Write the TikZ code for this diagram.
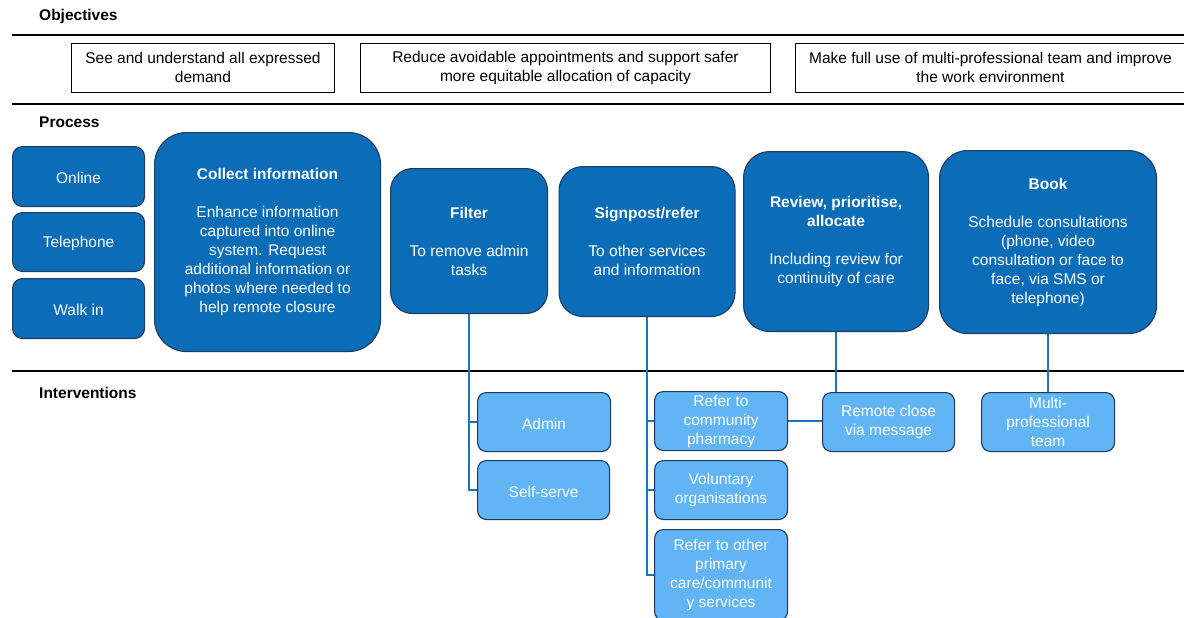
\documentclass[tikz,border=0pt]{standalone}
\usepackage{fontspec}
\setmainfont{Liberation Sans}
\definecolor{dblue}{HTML}{0B6DB8}
\definecolor{lblue}{HTML}{62B5F5}
\definecolor{edge}{HTML}{1F3A5F}
\definecolor{conn}{HTML}{1B75BE}
\tikzset{
  txt/.style={font=\fontsize{15.5}{19}\selectfont, align=center, inner sep=0pt, execute at begin node={\rule{0pt}{15pt}}},
  objbox/.style={txt, draw=black, line width=0.9pt, fill=white, anchor=north west, text=black},
  procbox/.style={txt, draw=edge, line width=1.1pt, fill=dblue, text=white, anchor=north west},
  intbox/.style={txt, draw=edge, line width=1.1pt, fill=lblue, text=white, anchor=north west, rounded corners=9pt},
  head/.style={font=\fontsize{15.5}{19}\selectfont\bfseries, anchor=west, inner sep=0pt},
  rule/.style={line width=1.6pt, black},
  link/.style={conn, line width=1.8pt},
}
\begin{document}
\begin{tikzpicture}[x=1pt,y=-1pt]
\useasboundingbox (0,0) rectangle (1184,618);
\clip (0,0) rectangle (1184,618);

% headings and rules
\node[head] (hobj) at (39,16.5) {Objectives};
\node[head] (hproc) at (39,122.5) {Process};
\node[head] (hint) at (39,392.5) {Interventions};
\coordinate (r1a) at (12,35); \coordinate (r1b) at (1190,35);
\coordinate (r2a) at (12,104); \coordinate (r2b) at (1190,104);
\coordinate (r3a) at (12,371); \coordinate (r3b) at (1190,371);
\draw[rule] (r1a) -- (r1b);
\draw[rule] (r2a) -- (r2b);
\draw[rule] (r3a) -- (r3b);

% objectives
\node[objbox, minimum width=263pt, minimum height=49pt] (o1) at (71,43) {See and understand all expressed\\demand};
\node[objbox, minimum width=410pt, minimum height=49pt] (o2) at (360,43) {Reduce avoidable appointments and support safer\\more equitable allocation of capacity};
\node[objbox, minimum width=410pt, minimum height=49pt] (o3) at (795,43) {\hspace*{-20pt}Make full use of multi-professional team and improve\\\hspace*{-20pt}the work environment};

% process
\node[procbox, rounded corners=10pt, minimum width=132pt, minimum height=60pt] (online) at (12,146) {Online};
\node[procbox, rounded corners=10pt, minimum width=132pt, minimum height=59pt] (tel) at (12,212) {Telephone};
\node[procbox, rounded corners=10pt, minimum width=132pt, minimum height=60pt] (walk) at (12,278) {Walk in};
\node[procbox, rounded corners=32pt, minimum width=226pt, minimum height=219pt] (collect) at (154,132)
  {\textbf{Collect information}\\[19pt]Enhance information\\captured into online\\system. Request\\additional information or\\photos where needed to\\help remote closure};
\node[procbox, rounded corners=22pt, minimum width=157pt, minimum height=145pt] (filter) at (390,168)
  {\textbf{Filter}\\[19pt]To remove admin\\tasks};
\node[procbox, rounded corners=24pt, minimum width=176pt, minimum height=150pt] (sign) at (558.5,166)
  {\textbf{Signpost/refer}\\[19pt]To other services\\and information};
\node[procbox, rounded corners=26pt, minimum width=185pt, minimum height=180pt] (review) at (743,151)
  {\textbf{Review, prioritise,}\\\textbf{allocate}\\[19pt]Including review for\\continuity of care};
\node[procbox, rounded corners=28pt, minimum width=217pt, minimum height=183pt] (book) at (939,150)
  {\textbf{Book}\\[19pt]Schedule consultations\\(phone, video\\consultation or face to\\face, via SMS or\\telephone)};

% interventions
\node[intbox, minimum width=133pt, minimum height=59pt] (admin) at (477,392) {Admin};
\node[intbox, minimum width=132pt, minimum height=59pt] (self) at (477,460) {Self-serve};
\node[intbox, minimum width=133pt, minimum height=59pt] (pharm) at (654,391) {Refer to\\community\\pharmacy};
\node[intbox, minimum width=133pt, minimum height=59pt] (vol) at (654,460) {Voluntary\\organisations};
\node[intbox, minimum width=133pt, minimum height=91pt] (other) at (654,529) {Refer to other\\primary\\care/communit\\y services};
\node[intbox, minimum width=132pt, minimum height=59pt] (remote) at (822,392) {Remote close\\via message};
\node[intbox, minimum width=133pt, minimum height=59pt] (multi) at (981,392) {Multi-\\professional\\team};

% connectors
\draw[link] (filter.south) |- (admin.west);
\draw[link] (filter.south) |- (self.west);
\draw[link] (sign.south) |- (pharm.west);
\draw[link] (sign.south) |- (vol.west);
\draw[link] (sign.south) |- (other.west);
\draw[link] (review.south) -- (review.south |- remote.north);
\draw[link] (pharm.east) -- (pharm.east -| remote.west);
\draw[link] (book.south) -- (multi.north);
\end{tikzpicture}
\end{document}
